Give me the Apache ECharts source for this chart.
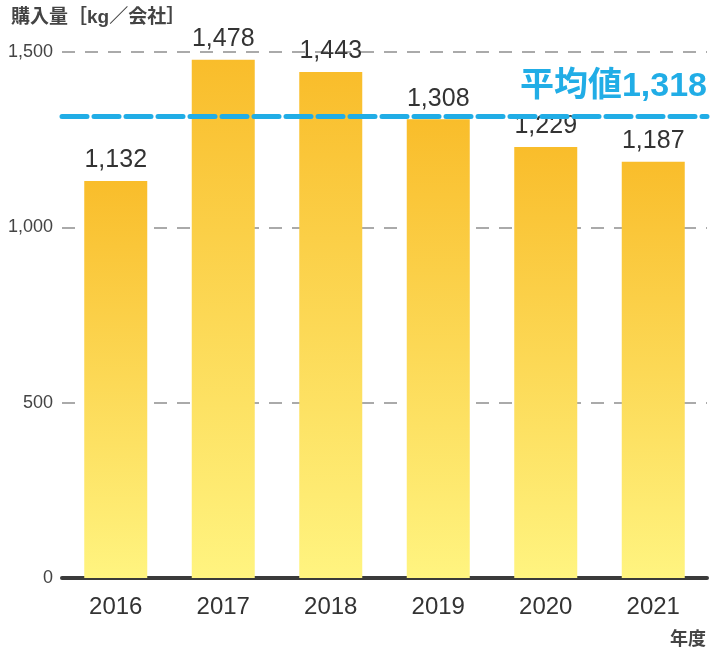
<!DOCTYPE html>
<html>
<head>
<meta charset="utf-8">
<script src="https://cdn.jsdelivr.net/npm/echarts@6/dist/echarts.min.js"></script>
<style>
html, body { margin: 0; padding: 0; background: #fff; }
#chart { width: 711px; height: 653px; }
</style>
</head>
<body>
<div id="chart"></div>
<script>
const years = ['2016', '2017', '2018', '2019', '2020', '2021']
const amounts = [1132, 1478, 1443, 1308, 1229, 1187]
const average = 1318
const yTicks = [0, 500, 1000, 1500]

const FONT = '"Liberation Sans", "Noto Sans CJK JP", sans-serif'
const fmt = v => v.toLocaleString('en-US')

const chart = echarts.init(document.getElementById('chart'))

chart.setOption({
    animation: false,
    textStyle: { fontFamily: FONT },
    grid: {
        left: 62,
        right: 4,
        top: 52,
        bottom: 75
    },
    graphic: [
        {
            type: 'text',
            left: 11,
            top: 8,
            style: {
                text: '購入量［kg／会社］',
                font: 'bold 19px ' + FONT,
                fill: '#444'
            }
        },
        {
            type: 'text',
            right: 5,
            top: 631,
            style: {
                text: '年度',
                font: 'bold 18px ' + FONT,
                fill: '#444'
            }
        }
    ],
    xAxis: {
        type: 'category',
        data: years,
        axisTick: { show: false },
        axisLine: {
            lineStyle: { color: '#3a3a3a', width: 4 }
        },
        axisLabel: {
            color: '#333',
            fontSize: 24,
            margin: 17
        }
    },
    yAxis: {
        type: 'value',
        min: yTicks[0],
        max: yTicks[yTicks.length - 1],
        interval: 500,
        axisLine: { show: false },
        axisTick: { show: false },
        axisLabel: {
            color: '#444',
            fontSize: 18,
            margin: 9,
            formatter: v => fmt(v)
        },
        splitLine: {
            lineStyle: {
                color: '#aaa',
                width: 2,
                type: [13, 10]
            }
        }
    },
    series: [
        {
            type: 'bar',
            data: amounts,
            barWidth: 63,
            itemStyle: {
                color: {
                    type: 'linear',
                    x: 0,
                    y: 0,
                    x2: 0,
                    y2: 1,
                    colorStops: [
                        { offset: 0, color: '#f9bd2b' },
                        { offset: 1, color: '#fff480' }
                    ]
                }
            },
            label: {
                show: true,
                position: 'top',
                distance: 8,
                color: '#333',
                fontSize: 25,
                formatter: p => fmt(p.value)
            },
            markLine: {
                silent: true,
                symbol: 'none',
                data: [{ yAxis: average }],
                lineStyle: {
                    color: '#21ade6',
                    width: 5,
                    type: [25, 7],
                    cap: 'round'
                },
                label: {
                    show: true,
                    position: 'insideEndTop',
                    distance: [0, 12],
                    color: '#21ade6',
                    fontSize: 34,
                    fontWeight: 'bold',
                    formatter: '平均値' + fmt(average)
                }
            }
        }
    ]
})
</script>
</body>
</html>
